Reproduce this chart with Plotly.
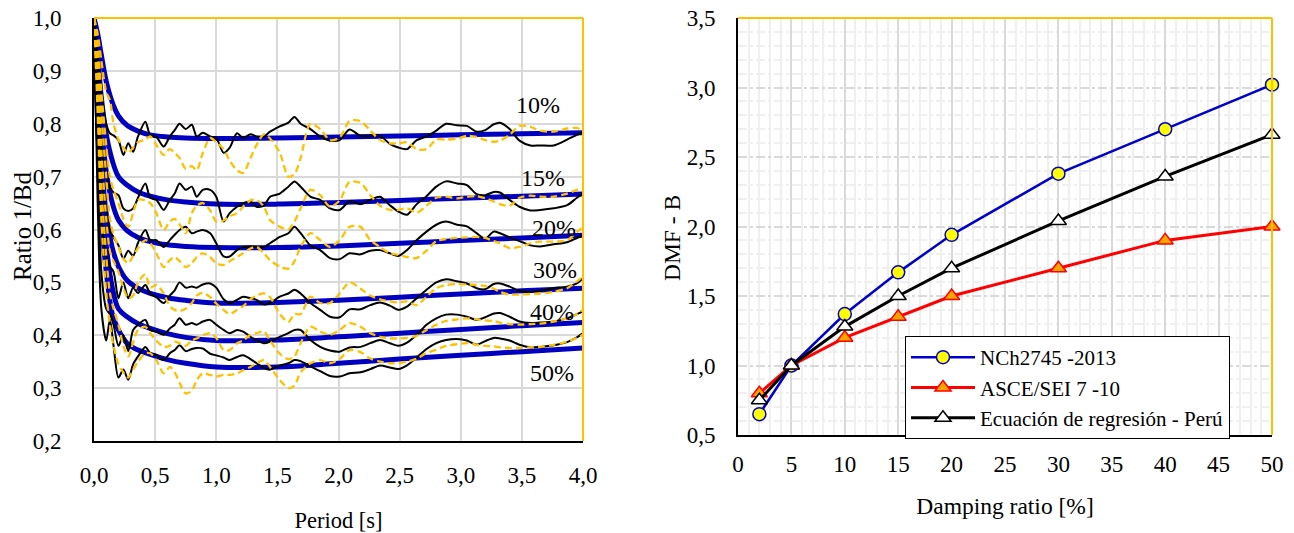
import plotly.graph_objects as go

# ---------------- Left chart data ----------------
T_BLUE = [0.0, 0.03, 0.06, 0.1, 0.15, 0.2, 0.27, 0.36, 0.46, 0.6, 0.75, 1.0, 1.5, 2.0, 2.5, 3.0, 3.5, 4.0]
BLUE_10 = [1.0, 0.97, 0.93, 0.88, 0.84, 0.815, 0.797, 0.786, 0.779, 0.775, 0.773, 0.772, 0.773, 0.775, 0.777, 0.779, 0.781, 0.783]
BLUE_15 = [1.0, 0.93, 0.85, 0.78, 0.73, 0.70, 0.684, 0.671, 0.663, 0.656, 0.652, 0.648, 0.648, 0.651, 0.655, 0.659, 0.663, 0.667]
BLUE_20 = [1.0, 0.90, 0.80, 0.71, 0.65, 0.618, 0.598, 0.585, 0.577, 0.571, 0.568, 0.566, 0.566, 0.569, 0.574, 0.579, 0.584, 0.589]
BLUE_30 = [1.0, 0.86, 0.73, 0.63, 0.565, 0.53, 0.504, 0.489, 0.479, 0.471, 0.466, 0.461, 0.462, 0.466, 0.472, 0.478, 0.484, 0.489]
BLUE_40 = [1.0, 0.83, 0.68, 0.57, 0.49, 0.45, 0.435, 0.422, 0.413, 0.403, 0.396, 0.39, 0.391, 0.397, 0.404, 0.411, 0.418, 0.424]
BLUE_50 = [1.0, 0.80, 0.63, 0.52, 0.44, 0.41, 0.385, 0.372, 0.364, 0.354, 0.347, 0.34, 0.34, 0.347, 0.355, 0.362, 0.369, 0.376]

T_REC = [0.0, 0.03, 0.06, 0.1, 0.13, 0.16, 0.2, 0.24, 0.28, 0.32,
         0.36, 0.42, 0.46, 0.51, 0.57, 0.62, 0.66, 0.70, 0.75, 0.80,
         0.84, 0.89, 0.95, 1.00, 1.06, 1.11, 1.17, 1.22, 1.28, 1.33,
         1.39, 1.44, 1.52, 1.59, 1.64, 1.69, 1.77, 1.85, 1.93, 2.01,
         2.09, 2.18, 2.26, 2.34, 2.42, 2.49, 2.56, 2.64, 2.72, 2.80,
         2.88, 2.97, 3.05, 3.13, 3.20, 3.27, 3.32, 3.40, 3.48, 3.57,
         3.65, 3.76, 3.87, 3.95, 4.0]

BLACK_10 = [1.0, 0.93, 0.86, 0.80, 0.782, 0.778, 0.769, 0.741, 0.763, 0.747,
            0.776, 0.804, 0.778, 0.775, 0.757, 0.776, 0.788, 0.80, 0.79, 0.798,
            0.776, 0.783, 0.776, 0.773, 0.745, 0.755, 0.782, 0.773, 0.78, 0.776,
            0.776, 0.785, 0.795, 0.802, 0.813, 0.80, 0.79, 0.776, 0.768, 0.769,
            0.789, 0.777, 0.777, 0.777, 0.762, 0.755, 0.752, 0.769, 0.776, 0.787,
            0.80, 0.797, 0.796, 0.785, 0.788, 0.799, 0.802, 0.79, 0.768, 0.759,
            0.759, 0.759, 0.77, 0.779, 0.783]
BLACK_15 = [1.0, 0.88, 0.76, 0.70, 0.68, 0.67, 0.665, 0.64, 0.635, 0.64,
            0.66, 0.687, 0.66, 0.656, 0.637, 0.656, 0.668, 0.687, 0.675, 0.681,
            0.662, 0.675, 0.675, 0.662, 0.615, 0.631, 0.643, 0.65, 0.653, 0.643,
            0.645, 0.662, 0.668, 0.681, 0.691, 0.681, 0.662, 0.656, 0.64, 0.637,
            0.653, 0.648, 0.656, 0.662, 0.646, 0.634, 0.628, 0.648, 0.663, 0.681,
            0.691, 0.687, 0.684, 0.667, 0.665, 0.671, 0.67, 0.656, 0.643, 0.636,
            0.637, 0.64, 0.646, 0.66, 0.668]
BLACK_20 = [1.0, 0.84, 0.70, 0.63, 0.60, 0.585, 0.57, 0.545, 0.56, 0.55,
            0.575, 0.599, 0.58, 0.58, 0.567, 0.58, 0.59, 0.599, 0.605, 0.593,
            0.596, 0.599, 0.593, 0.574, 0.549, 0.549, 0.561, 0.567, 0.568, 0.567,
            0.567, 0.574, 0.586, 0.593, 0.605, 0.593, 0.57, 0.561, 0.546, 0.544,
            0.555, 0.553, 0.56, 0.561, 0.555, 0.55, 0.561, 0.58, 0.596, 0.609,
            0.615, 0.609, 0.606, 0.593, 0.583, 0.596, 0.593, 0.585, 0.578, 0.57,
            0.568, 0.572, 0.576, 0.584, 0.589]
BLACK_30 = [1.0, 0.78, 0.62, 0.55, 0.53, 0.52, 0.47, 0.50, 0.47, 0.49,
            0.48, 0.495, 0.479, 0.472, 0.461, 0.475, 0.485, 0.50, 0.49, 0.492,
            0.49, 0.496, 0.498, 0.49, 0.468, 0.461, 0.467, 0.473, 0.47, 0.467,
            0.458, 0.461, 0.473, 0.479, 0.486, 0.479, 0.461, 0.448, 0.435, 0.434,
            0.449, 0.449, 0.457, 0.462, 0.456, 0.448, 0.454, 0.47, 0.486, 0.50,
            0.506, 0.502, 0.498, 0.489, 0.487, 0.497, 0.498, 0.492, 0.484, 0.482,
            0.484, 0.489, 0.492, 0.498, 0.508]
BLACK_40 = [1.0, 0.72, 0.52, 0.45, 0.44, 0.42, 0.38, 0.40, 0.37, 0.41,
            0.42, 0.429, 0.41, 0.407, 0.401, 0.413, 0.42, 0.432, 0.42, 0.423,
            0.42, 0.426, 0.429, 0.42, 0.41, 0.404, 0.41, 0.407, 0.397, 0.391,
            0.385, 0.388, 0.397, 0.404, 0.41, 0.41, 0.391, 0.378, 0.371, 0.369,
            0.377, 0.378, 0.385, 0.391, 0.385, 0.38, 0.386, 0.401, 0.42, 0.432,
            0.439, 0.439, 0.435, 0.429, 0.434, 0.441, 0.442, 0.435, 0.426, 0.423,
            0.424, 0.426, 0.432, 0.44, 0.445]
BLACK_50 = [1.0, 0.65, 0.45, 0.39, 0.43, 0.38, 0.32, 0.335, 0.316, 0.345,
            0.36, 0.378, 0.366, 0.363, 0.353, 0.366, 0.372, 0.381, 0.37, 0.374,
            0.376, 0.375, 0.365, 0.362, 0.358, 0.353, 0.359, 0.362, 0.355, 0.347,
            0.338, 0.335, 0.343, 0.347, 0.353, 0.351, 0.341, 0.332, 0.323, 0.322,
            0.328, 0.33, 0.336, 0.343, 0.339, 0.336, 0.343, 0.358, 0.374, 0.385,
            0.391, 0.393, 0.39, 0.382, 0.389, 0.395, 0.394, 0.39, 0.382, 0.377,
            0.378, 0.381, 0.387, 0.396, 0.404]

ORANGE_10 = [1.0, 0.97, 0.92, 0.86, 0.845, 0.80, 0.77, 0.755, 0.745, 0.755,
             0.765, 0.77, 0.776, 0.76, 0.741, 0.752, 0.745, 0.735, 0.715, 0.72,
             0.712, 0.745, 0.773, 0.765, 0.752, 0.73, 0.712, 0.707, 0.735, 0.76,
             0.78, 0.772, 0.745, 0.70, 0.705, 0.735, 0.80, 0.79, 0.769, 0.774,
             0.805, 0.805, 0.787, 0.769, 0.763, 0.763, 0.765, 0.752, 0.752, 0.77,
             0.77, 0.772, 0.777, 0.775, 0.769, 0.766, 0.768, 0.779, 0.796, 0.794,
             0.787, 0.785, 0.791, 0.792, 0.786]
ORANGE_15 = [1.0, 0.95, 0.86, 0.76, 0.70, 0.675, 0.65, 0.62, 0.605, 0.631,
             0.656, 0.655, 0.65, 0.631, 0.599, 0.615, 0.62, 0.61, 0.593, 0.631,
             0.645, 0.65, 0.636, 0.615, 0.617, 0.625, 0.631, 0.643, 0.655, 0.656,
             0.643, 0.618, 0.605, 0.60, 0.615, 0.64, 0.675, 0.665, 0.643, 0.655,
             0.69, 0.688, 0.665, 0.645, 0.637, 0.637, 0.64, 0.632, 0.645, 0.66,
             0.662, 0.659, 0.662, 0.663, 0.659, 0.653, 0.648, 0.645, 0.66, 0.664,
             0.662, 0.662, 0.668, 0.675, 0.679]
ORANGE_20 = [1.0, 0.93, 0.82, 0.70, 0.62, 0.59, 0.567, 0.545, 0.536, 0.55,
             0.565, 0.58, 0.574, 0.555, 0.529, 0.542, 0.548, 0.54, 0.529, 0.536,
             0.548, 0.555, 0.548, 0.536, 0.533, 0.54, 0.548, 0.555, 0.564, 0.567,
             0.555, 0.542, 0.53, 0.526, 0.54, 0.567, 0.593, 0.58, 0.567, 0.58,
             0.605, 0.605, 0.58, 0.567, 0.555, 0.552, 0.548, 0.546, 0.56, 0.578,
             0.582, 0.584, 0.585, 0.586, 0.584, 0.578, 0.574, 0.565, 0.567, 0.574,
             0.577, 0.577, 0.58, 0.595, 0.605]
ORANGE_30 = [1.0, 0.90, 0.75, 0.62, 0.56, 0.54, 0.52, 0.49, 0.47, 0.475,
             0.50, 0.515, 0.49, 0.495, 0.479, 0.455, 0.448, 0.446, 0.45, 0.461,
             0.475, 0.48, 0.472, 0.46, 0.448, 0.44, 0.448, 0.455, 0.468, 0.475,
             0.479, 0.472, 0.44, 0.425, 0.44, 0.44, 0.473, 0.461, 0.461, 0.479,
             0.50, 0.488, 0.475, 0.468, 0.464, 0.462, 0.464, 0.457, 0.473, 0.489,
             0.495, 0.497, 0.496, 0.495, 0.493, 0.488, 0.482, 0.477, 0.477, 0.478,
             0.479, 0.482, 0.489, 0.502, 0.511]
ORANGE_40 = [1.0, 0.86, 0.68, 0.55, 0.48, 0.45, 0.42, 0.38, 0.36, 0.386,
             0.41, 0.416, 0.404, 0.39, 0.378, 0.38, 0.388, 0.385, 0.38, 0.39,
             0.394, 0.40, 0.404, 0.395, 0.372, 0.372, 0.385, 0.39, 0.401, 0.404,
             0.407, 0.39, 0.365, 0.355, 0.36, 0.385, 0.416, 0.407, 0.401, 0.41,
             0.423, 0.416, 0.404, 0.397, 0.394, 0.394, 0.395, 0.399, 0.41, 0.42,
             0.427, 0.43, 0.432, 0.43, 0.428, 0.427, 0.424, 0.421, 0.42, 0.421,
             0.422, 0.426, 0.432, 0.44, 0.448]
ORANGE_50 = [1.0, 0.82, 0.62, 0.48, 0.42, 0.38, 0.345, 0.33, 0.32, 0.335,
             0.35, 0.366, 0.366, 0.353, 0.328, 0.34, 0.33, 0.31, 0.29, 0.295,
             0.315, 0.328, 0.325, 0.322, 0.325, 0.325, 0.328, 0.334, 0.34, 0.347,
             0.353, 0.34, 0.315, 0.30, 0.305, 0.33, 0.347, 0.353, 0.347, 0.355,
             0.372, 0.368, 0.356, 0.35, 0.347, 0.347, 0.35, 0.356, 0.366, 0.373,
             0.38, 0.383, 0.385, 0.382, 0.38, 0.379, 0.377, 0.376, 0.376, 0.377,
             0.378, 0.382, 0.388, 0.395, 0.401]

DAMP_LABELS = ["10%", "15%", "20%", "30%", "40%", "50%"]
LABEL_T = [3.63, 3.67, 3.76, 3.77, 3.75, 3.75]
LABEL_V = [0.835, 0.697, 0.603, 0.523, 0.444, 0.329]

# ---------------- Right chart data ----------------
DAMPING = [2, 5, 10, 15, 20, 30, 40, 50]
NCH = [0.65, 1.0, 1.37, 1.67, 1.94, 2.38, 2.70, 3.02]
ASCE = [0.80, 1.0, 1.20, 1.35, 1.50, 1.70, 1.90, 2.00]
PERU = [0.75, 1.0, 1.28, 1.50, 1.70, 2.04, 2.36, 2.66]

FONT = "Liberation Serif, Times New Roman, serif"
BLUE = "#0000C0"
ORANGE = "#FFC000"
TICKFONT = dict(family=FONT, size=23, color="black")

fig = go.Figure()

blues = [BLUE_10, BLUE_15, BLUE_20, BLUE_30, BLUE_40, BLUE_50]
blacks = [BLACK_10, BLACK_15, BLACK_20, BLACK_30, BLACK_40, BLACK_50]
oranges = [ORANGE_10, ORANGE_15, ORANGE_20, ORANGE_30, ORANGE_40, ORANGE_50]

for b in blues:
    fig.add_trace(go.Scatter(x=T_BLUE, y=b, mode="lines", showlegend=False,
                             line=dict(color=BLUE, width=5, shape="spline", smoothing=1.0),
                             xaxis="x", yaxis="y", hoverinfo="skip"))
for k in blacks:
    fig.add_trace(go.Scatter(x=T_REC, y=k, mode="lines", showlegend=False,
                             line=dict(color="black", width=2, shape="spline", smoothing=0.8),
                             xaxis="x", yaxis="y", hoverinfo="skip"))
for o in oranges:
    fig.add_trace(go.Scatter(x=T_REC, y=o, mode="lines", showlegend=False,
                             line=dict(color=ORANGE, width=2.3, dash="7px,4px", shape="spline", smoothing=0.8),
                             xaxis="x", yaxis="y", hoverinfo="skip"))

fig.add_trace(go.Scatter(x=DAMPING, y=NCH, mode="lines+markers", name="NCh2745 -2013",
                         line=dict(color="#0000CC", width=2.5),
                         marker=dict(symbol="circle", size=13, color="#FFFF00",
                                     line=dict(color="#0000CC", width=1.5)),
                         xaxis="x2", yaxis="y2", cliponaxis=False))
fig.add_trace(go.Scatter(x=DAMPING, y=ASCE, mode="lines+markers", name="ASCE/SEI 7 -10",
                         line=dict(color="#FF0000", width=3),
                         marker=dict(symbol="triangle-up", size=14, color="#FFA500",
                                     line=dict(color="#FF0000", width=1.5)),
                         xaxis="x2", yaxis="y2", cliponaxis=False))
fig.add_trace(go.Scatter(x=DAMPING, y=PERU, mode="lines+markers", name="Ecuación de regresión - Perú",
                         line=dict(color="black", width=3),
                         marker=dict(symbol="triangle-up", size=14, color="white",
                                     line=dict(color="black", width=1.5)),
                         xaxis="x2", yaxis="y2", cliponaxis=False))

W, H = 1294, 533

annotations = []
for lab, tx, vy in zip(DAMP_LABELS, LABEL_T, LABEL_V):
    annotations.append(dict(x=tx, y=vy, xref="x", yref="y", text=lab, showarrow=False,
                            font=dict(family=FONT, size=24, color="black")))
# y-axis titles
annotations.append(dict(x=23 / W, y=1 - 226 / H, xref="paper", yref="paper", text="Ratio 1/Bd",
                        textangle=-90, showarrow=False, xanchor="center", yanchor="middle",
                        font=dict(family=FONT, size=25, color="black")))
annotations.append(dict(x=672 / W, y=1 - 238 / H, xref="paper", yref="paper", text="DMF - B",
                        textangle=-90, showarrow=False, xanchor="center", yanchor="middle",
                        font=dict(family=FONT, size=23.5, color="black")))

shapes = []
for xr, yr in (("x domain", "y domain"), ("x2 domain", "y2 domain")):
    shapes.append(dict(type="line", xref=xr, yref=yr, x0=0, x1=1, y0=1, y1=1,
                       line=dict(color=ORANGE, width=2)))
    shapes.append(dict(type="line", xref=xr, yref=yr, x0=1, x1=1, y0=0, y1=1,
                       line=dict(color=ORANGE, width=2)))

fig.update_layout(
    width=W, height=H,
    margin=dict(l=0, r=0, t=0, b=0, autoexpand=False),
    paper_bgcolor="white", plot_bgcolor="white",
    separators=",.",
    font=dict(family=FONT, size=22, color="black"),
    annotations=annotations,
    shapes=shapes,
    xaxis=dict(domain=[94 / W, 583 / W], range=[0, 4], dtick=0.5, tick0=0, tickformat=".1f",
               tickfont=TICKFONT, automargin=False,
               showgrid=True, gridcolor="#d9d9d9", gridwidth=1.5,
               showline=True, linecolor="black", linewidth=2, zeroline=False,
               ticks="", ticklabelstandoff=12,
               title=dict(text="Period [s]", font=dict(family=FONT, size=22.5), standoff=26)),
    yaxis=dict(domain=[1 - 441 / H, 1 - 18 / H], range=[0.2, 1.0], dtick=0.1, tick0=0.2, tickformat=".1f",
               tickfont=TICKFONT, automargin=False,
               showgrid=True, gridcolor="#d9d9d9", gridwidth=1.5,
               showline=True, linecolor="black", linewidth=2, zeroline=False,
               ticks="", ticklabelstandoff=26),
    xaxis2=dict(domain=[738 / W, 1272 / W], range=[0, 50], dtick=5, tick0=0, tickformat="d",
                tickfont=TICKFONT, automargin=False,
                showgrid=True, gridcolor="#d9d9d9", gridwidth=1.5,
                minor=dict(dtick=1, showgrid=True, gridcolor="#efefef", gridwidth=1.5),
                showline=True, linecolor="black", linewidth=2, zeroline=False,
                ticks="", ticklabelstandoff=7, anchor="y2",
                title=dict(text="Damping ratio [%]", font=dict(family=FONT, size=23.5), standoff=22)),
    yaxis2=dict(domain=[1 - 435 / H, 1 - 18 / H], range=[0.5, 3.5], dtick=0.5, tick0=0.5, tickformat=".1f",
                tickfont=TICKFONT, automargin=False,
                showgrid=True, gridcolor="#d9d9d9", gridwidth=1.5, griddash="dashdot",
                minor=dict(dtick=0.1, showgrid=True, gridcolor="#efefef", gridwidth=1.5),
                showline=True, linecolor="black", linewidth=2, zeroline=False,
                ticks="", ticklabelstandoff=16, anchor="x2"),
    legend=dict(x=905 / W, y=1 - 336 / H, xanchor="left", yanchor="top",
                bgcolor="white", bordercolor="black", borderwidth=1,
                font=dict(family=FONT, size=21, color="black"),
                itemwidth=64, tracegroupgap=0,
                entrywidth=285, entrywidthmode="pixels"),
)

fig.write_html("out.html")
